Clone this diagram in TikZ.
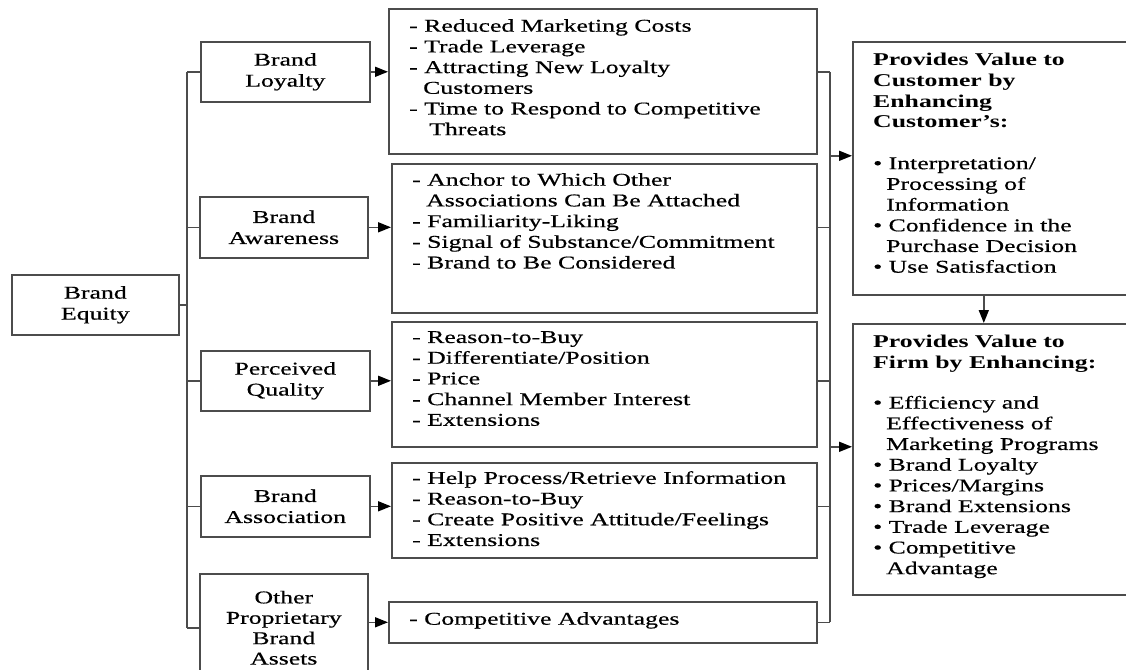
\documentclass[tikz,border=0pt]{standalone}
\usepackage{fontspec}
\setmainfont{Liberation Serif}[FakeStretch = 1.43, UprightFeatures = {FakeBold = 0.5}]
\usetikzlibrary{arrows.meta}
\usetikzlibrary{positioning}
\tikzset{
driver/.style = { rectangle, draw = black!70, line width = 1.6pt, fill = white, anchor = north west, align = center, inner sep = 0pt, font = \fontsize{18pt}{21pt}\selectfont },
outcome/.style = { rectangle, draw = black!70, line width = 1.6pt, fill = white, anchor = north west, inner sep = 0pt },
itemlist/.style = { anchor = north west, align = left, inner sep = 0pt, font = \fontsize{18pt}{20.7pt}\selectfont },
link/.style = { draw = black!70, line width = 1.6pt },
flow/.style = { link, -{Triangle[length = 13pt, width = 10pt, color = black]} },
}

\begin{document}
\begin{tikzpicture}[x = 1pt, y = -1pt]
    \clip (0, 0) rectangle (1126, 669);
    \fill[white] (0, 0) rectangle (1126, 669);
    \node[driver, minimum width = 167pt, minimum height = 60pt] (equity) at (11, 274) {Brand\\Equity};
    \node[driver, minimum width = 169pt, minimum height = 60pt] (loyalty) at (200, 41) {Brand\\Loyalty};
    \node[driver, minimum width = 168pt, minimum height = 61pt] (awareness) at (199, 196) {Brand\\Awareness};
    \node[driver, minimum width = 169pt, minimum height = 60pt] (quality) at (200, 350) {Perceived\\Quality};
    \node[driver, minimum width = 169pt, minimum height = 61pt] (association) at (200, 475) {Brand\\Association};
    \node[driver, minimum width = 168pt, minimum height = 108pt, font = \fontsize{18pt}{20.4pt}\selectfont] (assets) at (199, 573) {Other\\Proprietary\\Brand\\Assets};
    \node[outcome, minimum width = 428pt, minimum height = 145pt] (loyaltyvalue) at (388, 8) {};
    \node[outcome, minimum width = 425pt, minimum height = 149pt] (awarenessvalue) at (391, 163) {};
    \node[outcome, minimum width = 425pt, minimum height = 125pt] (qualityvalue) at (391, 321) {};
    \node[outcome, minimum width = 425pt, minimum height = 95pt] (associationvalue) at (391, 462) {};
    \node[outcome, minimum width = 428pt, minimum height = 41pt] (advantages) at (388, 601) {};
    \node[itemlist, below right = 11pt and 21pt of loyaltyvalue.north west] (loyaltylist) {- Reduced Marketing Costs\\- Trade Leverage\\- Attracting New Loyalty\\\hspace*{14pt}Customers\\- Time to Respond to Competitive\\\hspace*{20pt}Threats};
    \node[itemlist, below right = 10pt and 21pt of awarenessvalue.north west] (awarenesslist) {- Anchor to Which Other\\\hspace*{14pt}Associations Can Be Attached\\- Familiarity-Liking\\- Signal of Substance/Commitment\\- Brand to Be Considered};
    \node[itemlist, below right = 10pt and 21pt of qualityvalue.north west] (qualitylist) {- Reason-to-Buy\\- Differentiate/Position\\- Price\\- Channel Member Interest\\- Extensions};
    \node[itemlist, below right = 9pt and 21pt of associationvalue.north west] (associationlist) {- Help Process/Retrieve Information\\- Reason-to-Buy\\- Create Positive Attitude/Feelings\\- Extensions};
    \node[itemlist, below right = 11pt and 21pt of advantages.north west] (advantageslist) {- Competitive Advantages};
    \node[outcome, minimum width = 300pt, minimum height = 253pt] (customer) at (852, 41) {};
    \node[outcome, minimum width = 300pt, minimum height = 271pt] (firm) at (852, 323) {};
    \node[itemlist, below right = 12pt and 21pt of customer.north west] (customerlist) {\textbf{Provides Value to}\\\textbf{Customer by}\\\textbf{Enhancing}\\\textbf{Customer's:}\\[20.7pt]\textbullet{} Interpretation/\\\hspace*{13pt}Processing of\\\hspace*{13pt}Information\\\textbullet{} Confidence in the\\\hspace*{13pt}Purchase Decision\\\textbullet{} Use Satisfaction};
    \node[itemlist, below right = 12pt and 21pt of firm.north west] (firmlist) {\textbf{Provides Value to}\\\textbf{Firm by Enhancing:}\\[19.5pt]\textbullet{} Efficiency and\\\hspace*{13pt}Effectiveness of\\\hspace*{13pt}Marketing Programs\\\textbullet{} Brand Loyalty\\\textbullet{} Prices/Margins\\\textbullet{} Brand Extensions\\\textbullet{} Trade Leverage\\\textbullet{} Competitive\\\hspace*{13pt}Advantage};
    % left tree
    \coordinate (trunk) at (187, 0);
    \draw[link] (equity.east) -- (trunk |- equity.east);
    \draw[link] (trunk |- loyalty.west) -- (trunk |- assets.west);
    \draw[link] (trunk |- loyalty.west) -- (loyalty.west);
    \draw[link] (trunk |- awareness.west) -- (awareness.west);
    \draw[link] (trunk |- quality.west) -- (quality.west);
    \draw[link] (trunk |- association.west) -- (association.west);
    \draw[link] (trunk |- assets.west) -- (assets.west);
    \draw[flow] (loyalty.east) -- (loyalty.east -| loyaltyvalue.west);
    \draw[flow] (awareness.east) -- (awareness.east -| awarenessvalue.west);
    \draw[flow] (quality.east) -- (quality.east -| qualityvalue.west);
    \draw[flow] (association.east) -- (association.east -| associationvalue.west);
    \draw[flow] (assets.east |- advantages.west) -- (advantages.west);
    % right bus
    \coordinate (bus) at (830, 0);
    \draw[link] (loyaltyvalue.east |- loyalty.east) -- (bus |- loyalty.east);
    \draw[link] (awarenessvalue.east |- awareness.east) -- (bus |- awareness.east);
    \draw[link] (qualityvalue.east |- quality.east) -- (bus |- quality.east);
    \draw[link] (associationvalue.east |- association.east) -- (bus |- association.east);
    \draw[link] (advantages.east) -- (bus |- advantages.east);
    \draw[link] (bus |- loyalty.east) -- (bus |- advantages.east);
    \coordinate (customerin) at ([yshift = 12.5pt] customer.west);
    \coordinate (firmin) at ([yshift = 12.5pt] firm.west);
    \coordinate (handover) at ([xshift = -19pt] customer.south);
    \draw[flow] (bus |- customerin) -- (customerin);
    \draw[flow] (bus |- firmin) -- (firmin);
    \draw[flow] (handover) -- (handover |- firm.north);
\end{tikzpicture}
\end{document}
